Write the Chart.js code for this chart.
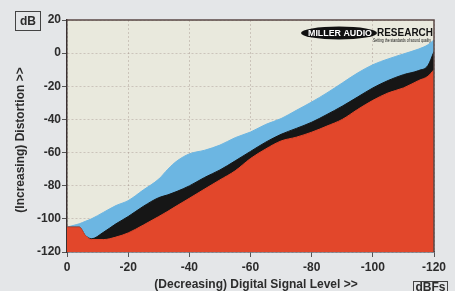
<!DOCTYPE html>
<html>
<head>
<meta charset="utf-8">
<script src="https://cdn.jsdelivr.net/npm/chart.js@4.4.1/dist/chart.umd.min.js"></script>
<style>
    body { margin: 0; background: #e4e6e8; }
    #wrap { width: 455px; height: 291px; }
</style>
</head>
<body>
<div id="wrap"><canvas id="distortionChart" width="455" height="291"></canvas></div>
<script>
const levels = [0, -3, -4, -6, -8, -12, -16, -20, -25, -30, -33, -36, -40, -45, -50, -55, -60, -65, -70, -75, -80, -85, -90, -95, -100, -105, -110, -115, -118, -120];
const blueTop = [-105, -103.5, -103, -101.5, -100, -96, -92, -89, -82.5, -76, -70, -65, -60.8, -58.6, -55.5, -51, -47.6, -43, -39.5, -34.5, -29.5, -24, -18, -12, -7, -3.5, -0.5, 2.5, 5, 8];
const blackTop = [-105, -105, -105, -110, -112, -108, -103, -98.6, -92.4, -87.2, -85.5, -83.4, -80.1, -75, -70.5, -65, -59.3, -53.7, -49, -45.4, -41.7, -37, -32, -26.5, -21, -16.5, -13, -10.5, -7.5, 1];
const redTop = [-105, -105, -105, -110, -112.5, -112.5, -111, -108.5, -103.7, -98.6, -95.4, -92, -87.6, -82, -76.5, -71, -63.6, -57.8, -53, -50.7, -47.7, -44, -40, -34, -28.5, -24, -21, -16.5, -14, -10];
const xTicks = [0, -20, -40, -60, -80, -100, -120];
const yTicks = [20, 0, -20, -40, -60, -80, -100, -120];

const toPoints = (values) => levels.map((lv, i) => ({x: lv, y: values[i]}));

const font = '"Liberation Sans", Arial, sans-serif';

let decorations = {
    id: 'decorations',
    beforeDraw(chart) {
        const {ctx, chartArea: a} = chart;
        ctx.save();
        ctx.fillStyle = '#e4e6e8';
        ctx.fillRect(0, 0, chart.width, chart.height);
        ctx.fillStyle = '#e9e9dd';
        ctx.fillRect(a.left, a.top, a.right - a.left, a.bottom - a.top);
        ctx.restore();
    },
    afterDraw(chart) {
        const {ctx, chartArea: a} = chart;
        ctx.save();
        ctx.strokeStyle = '#5a4846';
        ctx.lineWidth = 1.5;
        ctx.beginPath();
        ctx.moveTo(a.left, a.top);
        ctx.lineTo(a.right, a.top);
        ctx.lineTo(a.right, a.bottom);
        ctx.stroke();

        ctx.fillStyle = '#2c2c2c';
        ctx.font = 'bold 12px ' + font;
        ctx.textAlign = 'center';
        ctx.textBaseline = 'middle';
        ctx.save();
        ctx.translate(21, 140);
        ctx.rotate(-Math.PI / 2);
        ctx.fillText('(Increasing) Distortion >>', 0, 0);
        ctx.restore();
        ctx.fillText('(Decreasing) Digital Signal Level >>', 256, 285);

        ctx.strokeStyle = '#444';
        ctx.lineWidth = 1;
        ctx.strokeRect(15.5, 11.5, 25, 19);
        ctx.fillText('dB', 28, 21.5);
        ctx.strokeRect(413.5, 281.5, 34, 14);
        ctx.fillText('dBFs', 430.5, 288);

        ctx.fillStyle = '#111';
        ctx.beginPath();
        ctx.ellipse(339, 33, 38, 6.5, 0, 0, Math.PI * 2);
        ctx.fill();
        ctx.fillStyle = '#fff';
        ctx.font = '900 9px ' + font;
        let w = ctx.measureText('MILLER AUDIO').width;
        ctx.save();
        ctx.translate(340, 33.5);
        ctx.scale(64 / w, 1);
        ctx.fillText('MILLER AUDIO', 0, 0);
        ctx.restore();
        ctx.fillStyle = '#111';
        ctx.font = '900 10px ' + font;
        ctx.textAlign = 'left';
        w = ctx.measureText('RESEARCH').width;
        ctx.save();
        ctx.translate(377, 33.5);
        ctx.scale(56 / w, 1);
        ctx.fillText('RESEARCH', 0, 0);
        ctx.restore();
        ctx.font = '5px ' + font;
        w = ctx.measureText('Setting the standards of sound quality').width;
        ctx.save();
        ctx.translate(373, 40.5);
        ctx.scale(58 / w, 1);
        ctx.fillText('Setting the standards of sound quality', 0, 0);
        ctx.restore();
        ctx.restore();
    }
};

let distortionCanvas = document.getElementById('distortionChart');
let distortionChart = new Chart(distortionCanvas, {
    type: 'line',
    data: {
        datasets: [
            {
                label: 'Red',
                data: toPoints(redTop),
                backgroundColor: '#e2472b',
                borderColor: '#e2472b',
                borderWidth: 1,
                fill: 'start',
                pointRadius: 0,
                cubicInterpolationMode: 'monotone'
            },
            {
                label: 'Black',
                data: toPoints(blackTop),
                backgroundColor: '#161616',
                borderColor: '#161616',
                borderWidth: 1,
                fill: 'start',
                pointRadius: 0,
                cubicInterpolationMode: 'monotone'
            },
            {
                label: 'Blue',
                data: toPoints(blueTop),
                backgroundColor: '#6cb6e2',
                borderColor: '#6cb6e2',
                borderWidth: 1,
                fill: 'start',
                pointRadius: 0,
                cubicInterpolationMode: 'monotone'
            }
        ]
    },
    options: {
        responsive: false,
        animation: false,
        devicePixelRatio: 1,
        layout: {
            padding: {top: 20, right: 21, left: 0, bottom: 0}
        },
        plugins: {
            legend: {display: false},
            tooltip: {enabled: false}
        },
        scales: {
            x: {
                type: 'linear',
                min: -120,
                max: 0,
                reverse: true,
                z: 1,
                afterFit: (scale) => { scale.height = 39; },
                afterBuildTicks: (scale) => { scale.ticks = xTicks.map(v => ({value: v})); },
                ticks: {
                    color: '#2c2c2c',
                    padding: 3,
                    maxRotation: 0,
                    font: {family: font, size: 12, weight: 'bold'}
                },
                grid: {
                    color: 'rgba(150,130,120,0.35)',
                    tickColor: '#555',
                    tickLength: 5
                },
                border: {color: '#3c4050', width: 1.5, dash: [2, 2]}
            },
            y: {
                min: -120,
                max: 20,
                z: 1,
                afterFit: (scale) => { scale.width = 67; },
                afterBuildTicks: (scale) => { scale.ticks = yTicks.map(v => ({value: v})); },
                ticks: {
                    color: '#2c2c2c',
                    padding: 1,
                    font: {family: font, size: 12, weight: 'bold'}
                },
                grid: {
                    color: 'rgba(150,130,120,0.35)',
                    tickColor: '#555',
                    tickLength: 5
                },
                border: {color: '#3a3030', width: 1.5, dash: [2, 2]}
            }
        }
    },
    plugins: [decorations]
});
</script>
</body>
</html>
